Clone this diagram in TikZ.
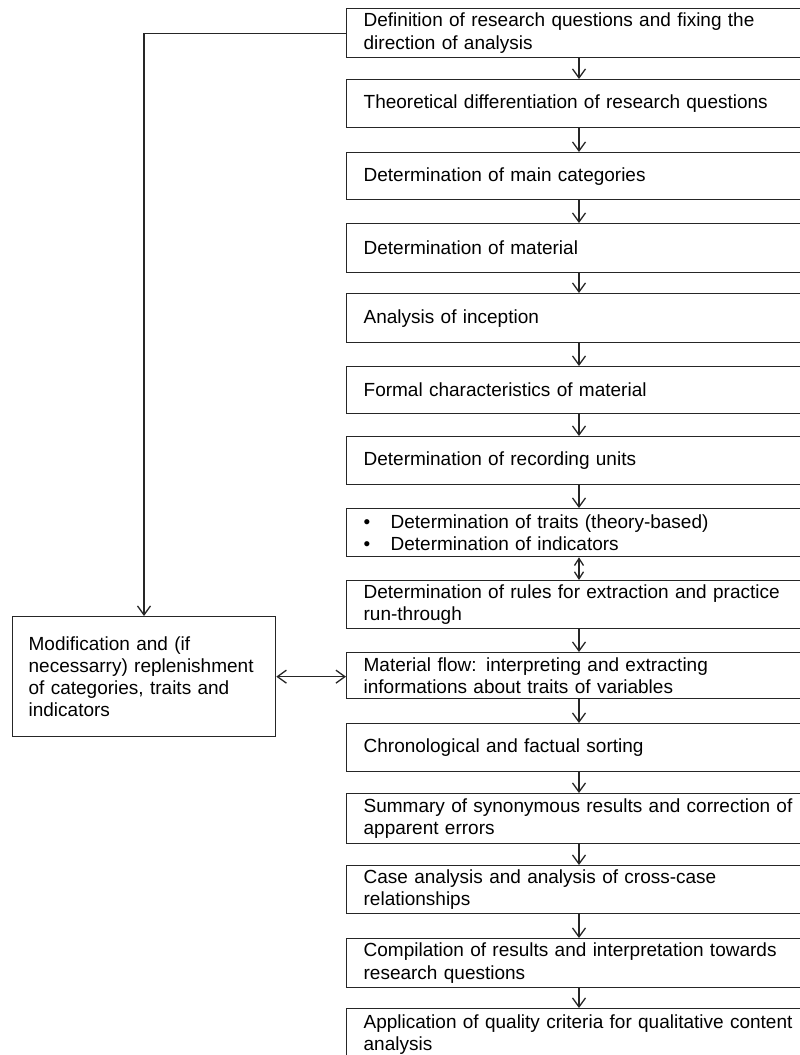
\documentclass[tikz,border=0pt]{standalone}
\usepackage{fontspec}
\setmainfont{Liberation Sans}
\usetikzlibrary{arrows.meta}
\newcommand\mybox[4]{\node[box,minimum height=#3pt] (#1) at (346,#2) {#4};}
\newcommand\bul[1]{\makebox[27pt][l]{\textbullet}#1}
\begin{document}
\begin{tikzpicture}[x=1pt,y=-1pt,
  box/.style={draw=black!85, line width=1.3pt, rectangle, anchor=north west,
    text width=450pt, inner xsep=17pt, inner ysep=0pt, align=left,
    font=\fontsize{19}{22.5}\selectfont, minimum width=484pt},
  lbox/.style={draw=black!85, line width=1.3pt, rectangle, anchor=north west,
    text width=231pt, inner xsep=16pt, inner ysep=0pt, align=left,
    font=\fontsize{19}{22}\selectfont, minimum width=263pt, minimum height=120pt},
  arr/.style={line width=1.3pt, draw=black!85,
    -{Straight Barb[length=9pt,width=13pt,line width=1.3pt]}},
  darr/.style={line width=1.3pt, draw=black!85,
    {Straight Barb[length=9pt,width=13pt,line width=1.3pt]}-{Straight Barb[length=9pt,width=13pt,line width=1.3pt]}},
  sdarr/.style={line width=1.3pt, draw=black!85,
    {Straight Barb[length=7pt,width=9pt,line width=1.3pt]}-{Straight Barb[length=7pt,width=9pt,line width=1.3pt]}},
]
\useasboundingbox (0,0) rectangle (800,1055);
\clip (0,0) rectangle (800,1055);

\mybox{b1}{8}{49}{Definition of research questions and fixing the\\direction of analysis}
\mybox{b2}{79}{48}{Theoretical differentiation of research questions}
\mybox{b3}{152}{47}{Determination of main categories}
\mybox{b4}{223}{49}{Determination of material}
\mybox{b5}{293}{49}{Analysis of inception}
\mybox{b6}{366}{47}{Formal characteristics of material}
\mybox{b7}{436}{48}{Determination of recording units}
\mybox{b8}{508}{48}{\bul{Determination of traits (theory-based)}\\\bul{Determination of indicators}}
\mybox{b9}{580}{48}{Determination of rules for extraction and practice\\run-through}
\mybox{b10}{652}{46}{Material flow: interpreting and extracting\\informations about traits of variables}
\mybox{b11}{723}{48}{Chronological and factual sorting}
\mybox{b12}{793}{50}{Summary of synonymous results and correction of\\apparent errors}
\mybox{b13}{865}{48}{Case analysis and analysis of cross-case\\relationships}
\mybox{b14}{938}{49}{Compilation of results and interpretation towards\\research questions}
\mybox{b15}{1008}{52}{Application of quality criteria for qualitative content\\analysis}

\node[lbox] (mod) at (12,616) {Modification and (if\\necessarry) replenishment\\of categories, traits and\\indicators};

\coordinate (ax) at (579,0);
\coordinate (fb) at (144,0);

\foreach \a/\b in {b1/b2,b2/b3,b3/b4,b4/b5,b5/b6,b6/b7,b7/b8,b9/b10,b10/b11,b11/b12,b12/b13,b13/b14,b14/b15}
  \draw[arr] (\a.south -| ax) -- (\b.north -| ax);
\draw[sdarr] (b8.south -| ax) -- (b9.north -| ax);

\draw[arr] (b1.west) -| (mod.north -| fb);
\draw[darr] (mod.east) -- (mod.east -| b10.west);
\end{tikzpicture}
\end{document}
